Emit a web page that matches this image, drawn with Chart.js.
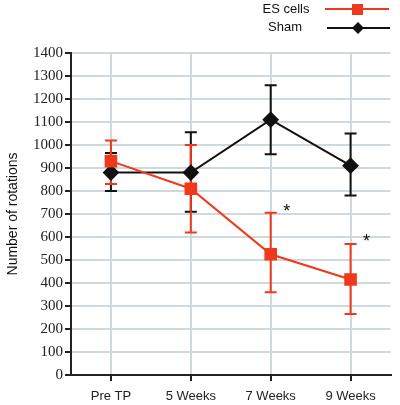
<!DOCTYPE html>
<html><head><meta charset="utf-8">
<script src="https://cdn.jsdelivr.net/npm/chart.js@4"></script>
<style>html,body{margin:0;padding:0;background:#fff}#wrap{width:400px;height:405px}</style>
</head><body><div id="wrap"><canvas id="c" width="400" height="405"></canvas></div>
<script>
const categories = ["Pre TP", "5 Weeks", "7 Weeks", "9 Weeks"];
const esMean = [930, 810, 525, 415];
const esLow  = [830, 620, 360, 265];
const esHigh = [1020, 1000, 705, 570];
const shamMean = [880, 880, 1110, 910];
const shamLow  = [800, 710, 960, 780];
const shamHigh = [965, 1055, 1260, 1050];
const yTicks = [0,100,200,300,400,500,600,700,800,900,1000,1100,1200,1300,1400];
const sigIndex = [2, 3];
const sigValue = [720, 590];

const RED = '#f0381c';
const BLACK = '#111';

const errorBars = {
  id: 'errorBars',
  beforeDatasetsDraw(chart) {
    const ctx = chart.ctx, x = chart.scales.x, y = chart.scales.y;
    const sets = [[shamLow, shamHigh, BLACK], [esLow, esHigh, RED]];
    ctx.save();
    ctx.lineWidth = 2;
    sets.forEach(([lo, hi, col]) => {
      ctx.strokeStyle = col;
      categories.forEach((c, i) => {
        const px = x.getPixelForValue(i);
        const y1 = y.getPixelForValue(lo[i]), y2 = y.getPixelForValue(hi[i]);
        ctx.beginPath();
        ctx.moveTo(px, y1); ctx.lineTo(px, y2);
        ctx.moveTo(px - 6, y1); ctx.lineTo(px + 6, y1);
        ctx.moveTo(px - 6, y2); ctx.lineTo(px + 6, y2);
        ctx.stroke();
      });
    });
    ctx.restore();
  },
  afterDatasetsDraw(chart) {
    const ctx = chart.ctx, x = chart.scales.x, y = chart.scales.y;
    ctx.save();
    ctx.fillStyle = '#111';
    ctx.font = '18px "Liberation Sans", Arial, sans-serif';
    ctx.textAlign = 'center';
    ctx.textBaseline = 'middle';
    sigIndex.forEach((idx, k) => {
      ctx.fillText('*', x.getPixelForValue(idx) + 16, y.getPixelForValue(sigValue[k]) + 3);
    });
    ctx.font = '13px "Liberation Sans", Arial, sans-serif';
    ctx.fillStyle = '#111';
    ctx.fillText('ES cells', 286, 9);
    ctx.fillText('Sham', 285, 27);
    ctx.lineWidth = 2;
    ctx.strokeStyle = RED;
    ctx.beginPath(); ctx.moveTo(325, 9); ctx.lineTo(389, 9); ctx.stroke();
    ctx.fillStyle = RED;
    ctx.fillRect(352, 4, 11, 11);
    ctx.strokeStyle = BLACK;
    ctx.beginPath(); ctx.moveTo(327, 28); ctx.lineTo(390, 28); ctx.stroke();
    ctx.fillStyle = BLACK;
    ctx.beginPath();
    ctx.moveTo(358, 22); ctx.lineTo(364, 28); ctx.lineTo(358, 34); ctx.lineTo(352, 28); ctx.closePath();
    ctx.fill();
    ctx.restore();
  }
};

function build() {
  new Chart(document.getElementById('c'), {
    type: 'line',
    data: {
      labels: categories,
      datasets: [
        { label: 'ES cells', data: esMean, borderColor: RED, backgroundColor: RED, borderWidth: 2,
          pointStyle: 'rect', pointRadius: 7.5, pointHoverRadius: 7.5, tension: 0 },
        { label: 'Sham', data: shamMean, borderColor: BLACK, backgroundColor: BLACK, borderWidth: 2,
          pointStyle: 'rectRot', pointRadius: 7, pointHoverRadius: 7, tension: 0 }
      ]
    },
    options: {
      responsive: false,
      animation: false,
      layout: { padding: { left: 5, right: 5, top: 53, bottom: 0 } },
      plugins: { legend: { display: false }, tooltip: { enabled: false } },
      scales: {
        x: {
          offset: true,
          grid: { color: '#cfd8dc', lineWidth: 2, tickColor: '#222', tickLength: 6, tickWidth: 2, offset: false },
          border: { color: '#222', width: 2 },
          ticks: { color: '#222', font: { family: 'Liberation Sans', size: 13 }, padding: 8 },
          afterFit(s) { s.height = 30; }
        },
        y: {
          min: 0, max: 1400,
          afterBuildTicks(s) { s.ticks = yTicks.map(v => ({ value: v })); },
          grid: { color: '#cfd8dc', lineWidth: 2, tickColor: '#222', tickLength: 6, tickWidth: 2 },
          border: { color: '#222', width: 2 },
          ticks: { color: '#222', font: { family: 'Liberation Serif', size: 15 }, padding: 2, autoSkip: false,
                   callback: (v) => String(v) },
          title: { display: true, text: 'Number of rotations', color: '#111',
                   font: { family: 'Liberation Sans', size: 14 }, padding: 0 },
          afterFit(s) { s.width = 66; }
        }
      }
    },
    plugins: [errorBars]
  });
}
const warm = document.createElement('canvas').getContext('2d');
warm.font = '15px "Liberation Serif"'; warm.fillText('0123456789', 0, 10);
Promise.all([
  document.fonts.load('15px "Liberation Serif"'),
  document.fonts.load('13px "Liberation Sans"')
]).then(build, build);
</script>
</body></html>
